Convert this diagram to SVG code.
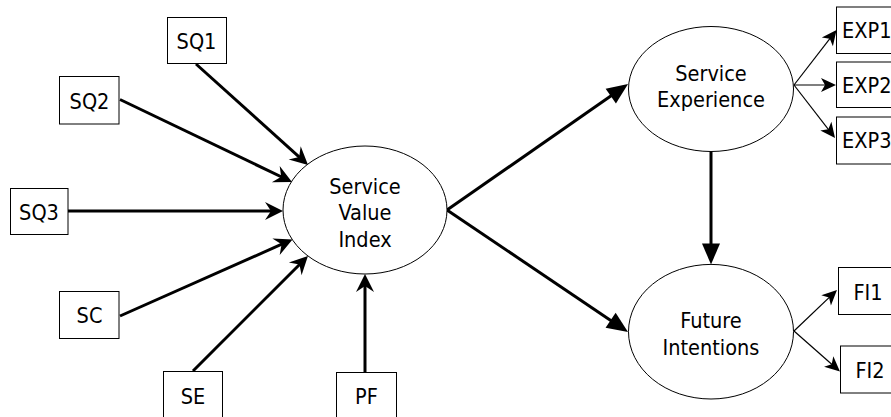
<svg xmlns="http://www.w3.org/2000/svg" width="891" height="417" viewBox="0 0 891 417">
<style>
.box{fill:#fff;stroke:#000;stroke-width:1}
.ell{fill:#fff;stroke:#000;stroke-width:1}
.t{font-family:"DejaVu Sans Condensed","DejaVu Sans",sans-serif;font-stretch:condensed;font-size:21.5px;fill:#000;text-anchor:middle}
.tl{text-anchor:start}
.thick{stroke:#000;stroke-width:3;fill:none}
.thin{stroke:#000;stroke-width:1.2;fill:none}
</style>
<defs>
<marker id="stealth" markerUnits="userSpaceOnUse" orient="auto" refX="10" refY="0" markerWidth="22" markerHeight="22" viewBox="-1 -11 22 22" overflow="visible">
<path d="M0,-9 L18,0 L0,9 L6,0 z" fill="#000"/>
</marker>
<marker id="tri" markerUnits="userSpaceOnUse" orient="auto" refX="10" refY="0" markerWidth="24" markerHeight="24" viewBox="-1 -12 24 24" overflow="visible">
<path d="M0,-9 L21,0 L0,9 z" fill="#000"/>
</marker>
<marker id="small" markerUnits="userSpaceOnUse" orient="auto" refX="12" refY="0" markerWidth="18" markerHeight="18" viewBox="-1 -9 18 18" overflow="visible">
<path d="M0,-7 L15,0 L0,7 L4,0 z" fill="#000"/>
</marker>
</defs>
<g id="connectors">
<line class="thick" x1="196" y1="64" x2="302.1" y2="159.6" marker-end="url(#stealth)"/>
<line class="thick" x1="120" y1="99.5" x2="284.8" y2="178.5" marker-end="url(#stealth)"/>
<line class="thick" x1="68" y1="211" x2="275" y2="211" marker-end="url(#stealth)"/>
<line class="thick" x1="120" y1="316" x2="285.2" y2="242.7" marker-end="url(#stealth)"/>
<line class="thick" x1="193" y1="371" x2="302.3" y2="261.7" marker-end="url(#stealth)"/>
<line class="thick" x1="365" y1="372" x2="365" y2="282" marker-end="url(#stealth)"/>
<line class="thick" x1="447" y1="210" x2="619" y2="90.3" marker-end="url(#tri)"/>
<line class="thick" x1="447" y1="210" x2="618.9" y2="325.9" marker-end="url(#tri)"/>
<line class="thick" x1="711" y1="152" x2="711" y2="253.5" marker-end="url(#tri)"/>
<line class="thin" x1="794" y1="85" x2="834.7" y2="32.4" marker-end="url(#small)"/>
<line class="thin" x1="794" y1="85" x2="833" y2="85" marker-end="url(#small)"/>
<line class="thin" x1="794" y1="85" x2="833.2" y2="135.6" marker-end="url(#small)"/>
<line class="thin" x1="794" y1="331" x2="834.8" y2="292.1" marker-end="url(#small)"/>
<line class="thin" x1="794" y1="331" x2="837.7" y2="369.5" marker-end="url(#small)"/>
</g>
<g id="SQ1"><rect class="box" x="167.5" y="17.5" width="59" height="46"/><text class="t" x="196.5" y="49">SQ1</text></g>
<g id="SQ2"><rect class="box" x="59.5" y="76.5" width="59.5" height="47.5"/><text class="t" x="89.5" y="109">SQ2</text></g>
<g id="SQ3"><rect class="box" x="10.5" y="188.5" width="57.5" height="46"/><text class="t" x="39" y="219.5">SQ3</text></g>
<g id="SC"><rect class="box" x="59.5" y="291.5" width="59.5" height="47"/><text class="t" x="89.5" y="322.5">SC</text></g>
<g id="SE"><rect class="box" x="163.5" y="371.5" width="59" height="50"/><text class="t" x="193" y="403.5">SE</text></g>
<g id="PF"><rect class="box" x="336.5" y="372.5" width="60" height="50"/><text class="t" x="366.5" y="403.5">PF</text></g>
<g id="SVI"><ellipse class="ell" cx="365" cy="210" rx="82" ry="64"/>
<text class="t" x="365" y="193.5">Service</text><text class="t" x="365" y="220">Value</text><text class="t" x="365" y="246.5">Index</text></g>
<g id="SExp"><ellipse class="ell" cx="711" cy="89" rx="82.5" ry="62.5"/>
<text class="t" x="711" y="81">Service</text><text class="t" x="711" y="107">Experience</text></g>
<g id="FI"><ellipse class="ell" cx="711" cy="331.7" rx="82.5" ry="67.3"/>
<text class="t" x="711" y="328">Future</text><text class="t" x="711" y="355">Intentions</text></g>
<g id="EXP1"><rect class="box" x="836.5" y="7" width="70" height="46.5"/><text class="t tl" x="842" y="38">EXP1</text></g>
<g id="EXP2"><rect class="box" x="836.5" y="62" width="70" height="45.5"/><text class="t tl" x="842" y="93">EXP2</text></g>
<g id="EXP3"><rect class="box" x="836.5" y="117" width="70" height="47"/><text class="t tl" x="842" y="148">EXP3</text></g>
<g id="FI1"><rect class="box" x="838.5" y="267.5" width="60" height="47"/><text class="t" x="868" y="299.5">FI1</text></g>
<g id="FI2"><rect class="box" x="840.5" y="346" width="60" height="47"/><text class="t" x="870" y="378">FI2</text></g>
</svg>
